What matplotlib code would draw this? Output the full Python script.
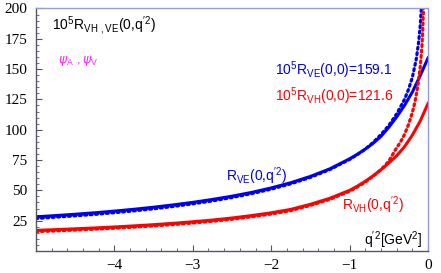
import matplotlib
matplotlib.use("Agg")
import matplotlib.pyplot as plt
from matplotlib.ticker import MultipleLocator

plt.rcParams['mathtext.default'] = 'regular'
plt.rcParams['font.family'] = ['Liberation Sans', 'DejaVu Sans']

# values
q2_solid = [-5, -4.75, -4.5, -4.25, -4, -3.75, -3.5, -3.25, -3, -2.75, -2.5, -2.25,
            -2, -1.75, -1.5, -1.25, -1, -0.9, -0.8, -0.7, -0.6, -0.5, -0.4, -0.3,
            -0.2, -0.1, 0]
r_ve_solid = [28.2, 29.2, 30.3, 31.5, 32.9, 34.4, 36.1, 38, 40.1, 42.5, 45.2, 48.3,
              52, 56.3, 61.5, 67.8, 76, 79.8, 84, 88.8, 94.5, 102, 110.5, 120,
              131, 144.5, 159.1]
r_vh_solid = [17, 17.6, 18.3, 19, 19.8, 20.7, 21.7, 22.8, 24.1, 25.5, 27.2, 29.2,
              31.5, 34.3, 38.5, 43.5, 50, 53.5, 57.5, 62, 67, 72.5, 78.5, 86,
              95.5, 107, 121.6]

q2_ve_dot = [-5, -4.75, -4.5, -4.25, -4, -3.75, -3.5, -3.25, -3, -2.75, -2.5, -2.25,
             -2, -1.75, -1.5, -1.25, -1, -0.9, -0.8, -0.7, -0.6, -0.5, -0.4, -0.3,
             -0.25, -0.2, -0.15, -0.12, -0.1, -0.08, -0.06]
r_ve_dot = [26.8, 27.9, 29, 30.2, 31.6, 33.1, 34.8, 36.7, 38.9, 41.3, 44.1, 47.3,
            51, 55.4, 60.7, 67.2, 75.5, 79.5, 84, 89.5, 96, 103.5, 113, 125,
            133, 143, 158, 172, 185, 205, 235]

q2_vh_dot = [-5, -4.75, -4.5, -4.25, -4, -3.75, -3.5, -3.25, -3, -2.75, -2.5, -2.25,
             -2, -1.75, -1.5, -1.25, -1, -0.9, -0.8, -0.7, -0.6, -0.5, -0.42, -0.35,
             -0.3, -0.25, -0.2, -0.166, -0.13, -0.1, -0.08, -0.068, -0.058, -0.045]
r_vh_dot = [16, 16.6, 17.3, 18, 18.8, 19.7, 20.7, 21.8, 23.1, 24.5, 26.2, 28.2,
            30.5, 33.3, 37.6, 42.6, 49.3, 52.8, 56.8, 61.6, 67, 74, 83, 90,
            96, 104, 114, 123, 136, 151, 166, 180, 200, 230]

blue = '#0000ee'
red = '#ff0000'
dark = '#555566'
light = '#9999dd'

fig = plt.figure(figsize=(4.41, 2.73), dpi=100)
ax = fig.add_axes([0.0816, 0.0806, 0.8889, 0.8884])

ax.plot(q2_solid, r_ve_solid, color=blue, lw=2.2)
ax.plot(q2_solid, r_vh_solid, color=red, lw=2.2)
ax.plot(q2_ve_dot, r_ve_dot, color=blue, lw=2.3, linestyle=(0, (0.6, 1.1)),
        dash_capstyle='round')
ax.plot(q2_vh_dot, r_vh_dot, color=red, lw=2.3, linestyle=(0, (0.6, 1.1)),
        dash_capstyle='round')

ax.set_xlim(-5, 0)
ax.set_ylim(0, 200)

ax.xaxis.set_minor_locator(MultipleLocator(0.2))
ax.yaxis.set_minor_locator(MultipleLocator(5))
ax.set_xticks([-4, -3, -2, -1, 0])
ax.set_yticks([25, 50, 75, 100, 125, 150, 175, 200])

ax.tick_params(which='both', direction='in', color=dark, top=False, right=False)
ax.tick_params(which='major', length=4, width=0.8, labelsize=11, pad=6)
ax.tick_params(which='minor', length=2, width=0.6)
for lab in ax.get_xticklabels() + ax.get_yticklabels():
    lab.set_fontfamily('Liberation Serif')

ax.spines['left'].set_color(dark)
ax.spines['bottom'].set_color(dark)
ax.spines['top'].set_color(light)
ax.spines['right'].set_color(light)
for s in ax.spines.values():
    s.set_linewidth(1.0)

ax.text(0.04, 0.93, r"$10^5R_{VH\ ,VE}(0{,}q'^2)$", transform=ax.transAxes,
        fontsize=10, color='black', va='center', ha='left')
ax.text(0.055, 0.785, r"$\mathit{\psi}_A\ ,\mathit{\psi}_V$", transform=ax.transAxes,
        fontsize=9, color='#ff22ff', va='center', ha='left')
ax.text(0.61, 0.745, r"$10^5R_{VE}(0{,}0)$=159.1", transform=ax.transAxes,
        fontsize=10, color=blue, va='center', ha='left')
ax.text(0.61, 0.64, r"$10^5R_{VH}(0{,}0)$=121.6", transform=ax.transAxes,
        fontsize=10, color=red, va='center', ha='left')
ax.text(0.562, 0.308, r"$R_{VE}(0{,}q'^2)$", transform=ax.transAxes,
        fontsize=10, color=blue, va='center', ha='center')
ax.text(0.86, 0.19, r"$R_{VH}(0{,}q'^2)$", transform=ax.transAxes,
        fontsize=10, color=red, va='center', ha='center')
ax.text(0.985, 0.045, r"$q'^2[GeV^2]$", transform=ax.transAxes,
        fontsize=10, color='black', va='center', ha='right')

fig.savefig('out.png', dpi=100)
